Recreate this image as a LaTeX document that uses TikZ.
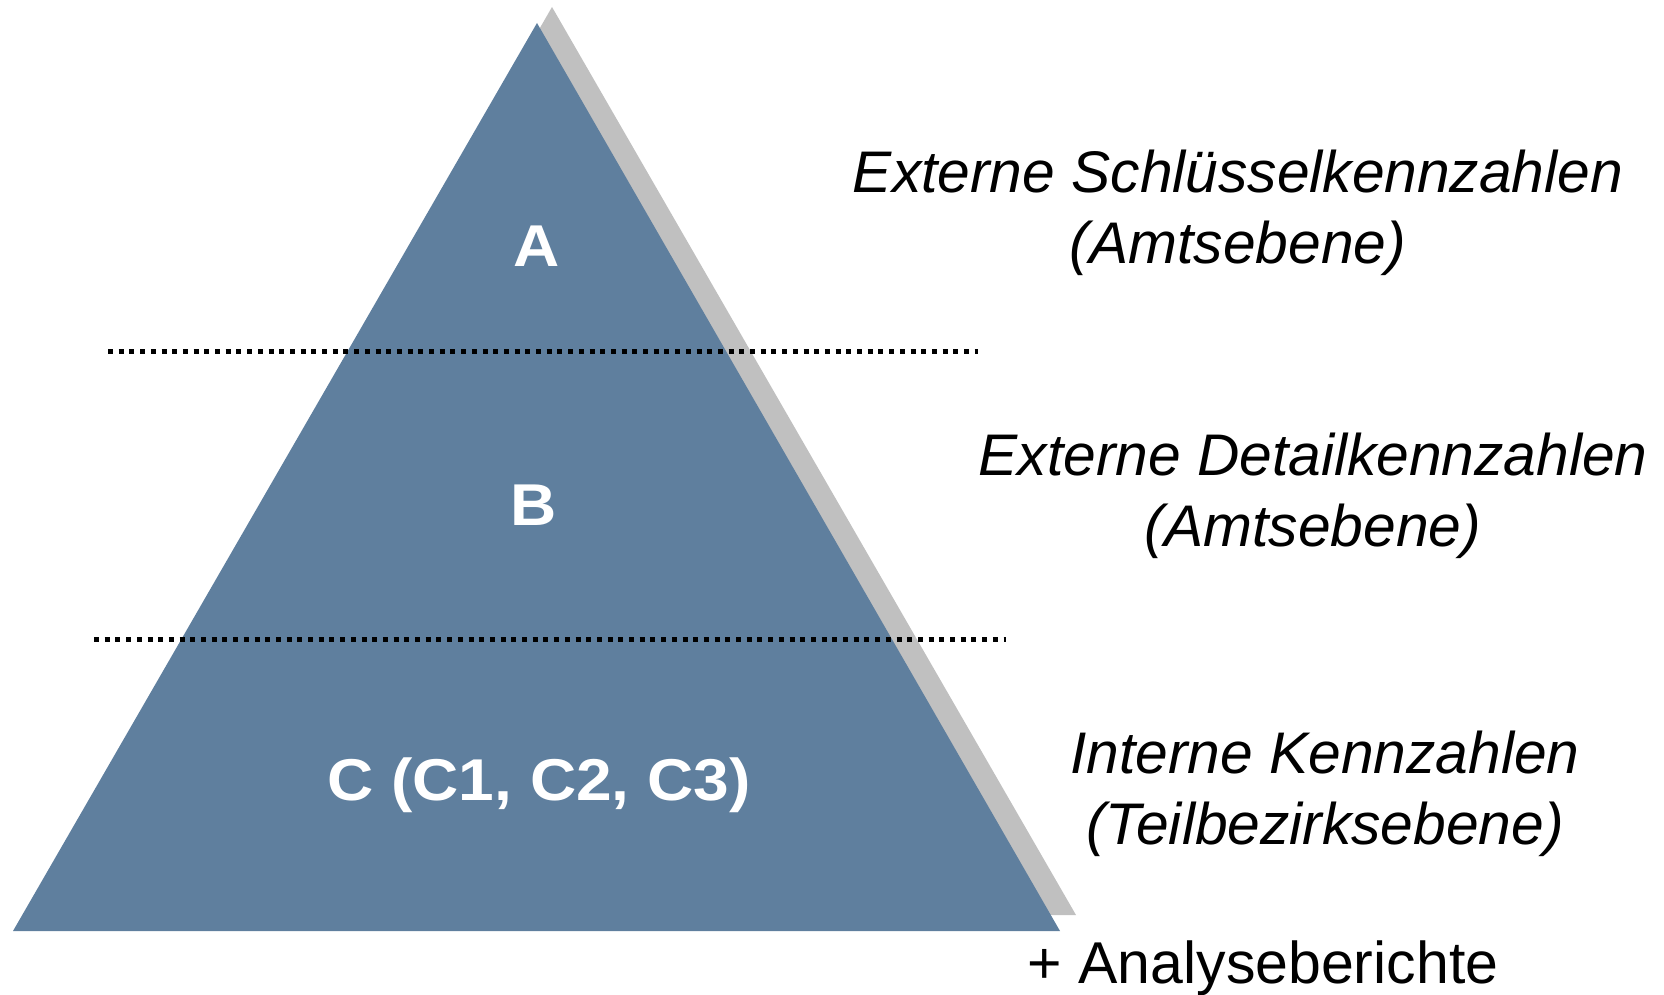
\documentclass[tikz,border=0pt]{standalone}
\usepackage{fontspec}
\setmainfont{Liberation Sans}
\definecolor{pyrblue}{HTML}{5F7F9E}
\definecolor{pyrshadow}{HTML}{C0C0C0}
\newcommand{\lvltext}[1]{\scalebox{1.085}[1]{#1}}
\begin{document}
\begin{tikzpicture}[x=1pt,y=-1pt,
  lvl/.style={text=white,font=\fontsize{59}{66}\selectfont\bfseries,inner sep=0pt,anchor=center},
  desc/.style={font=\fontsize{58.7}{70.5}\selectfont\itshape,align=center,inner sep=0pt,anchor=center},
  sep/.style={line width=5pt,dash pattern=on 5pt off 5.7pt}]
\useasboundingbox (0,0) rectangle (1664,995);
% shadow
\fill[pyrshadow] (552,7) -- (1076,915) -- (29,915) -- cycle;
% pyramid
\fill[pyrblue] (537,23) -- (1060,931) -- (13,931) -- cycle;
% separators
\coordinate (s1a) at (108,351);
\coordinate (s1b) at (978,351);
\coordinate (s2a) at (94,639);
\coordinate (s2b) at (1006,639);
\draw[sep] (s1a) -- (s1b);
\draw[sep] (s2a) -- (s2b);
% level labels
\node[lvl] (A) at (537,246) {\lvltext{A}};
\node[lvl] (B) at (534,505) {\lvltext{B}};
\node[lvl] (C) at (539,785) {\lvltext{C (C1, C2, C3)}};
% descriptions
\node[desc] (dA) at (1238,213) {Externe Schlüsselkennzahlen\\(Amtsebene)};
\node[desc] (dB) at (1313,496) {Externe Detailkennzahlen\\(Amtsebene)};
\node[desc] (dC) at (1325,794) {Interne Kennzahlen\\(Teilbezirksebene)};
\node[font=\fontsize{59}{70}\selectfont,inner sep=0pt,anchor=center] (an) at (1263,968) {+ Analyseberichte};
\end{tikzpicture}
\end{document}
